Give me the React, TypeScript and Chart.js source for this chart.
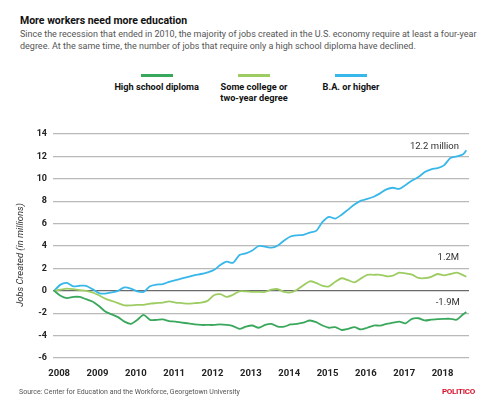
import React, { useEffect, useRef } from "react";
import { Chart, registerables } from "chart.js";

Chart.register(...registerables);

// Months since January 2008 (bimonthly samples, last point Oct 2018)
const monthOffsets = [
  0, 2, 4, 6, 8, 10, 12, 14, 16, 18, 20, 22, 24, 26, 28, 30, 32, 34, 36, 38, 40, 42, 44, 46,
  48, 50, 52, 54, 56, 58, 60, 62, 64, 66, 68, 70, 72, 74, 76, 78, 80, 82, 84, 86, 88, 90, 92,
  94, 96, 98, 100, 102, 104, 106, 108, 110, 112, 114, 116, 118, 120, 122, 124, 126, 128, 129,
];

// Jobs created since 2008, in millions
const highSchool = [
  0, -0.45, -0.65, -0.55, -0.55, -0.75, -0.95, -1.35, -1.85, -2.1, -2.35, -2.75, -2.95, -2.6,
  -2.15, -2.6, -2.6, -2.55, -2.7, -2.75, -2.85, -2.9, -3.0, -3.05,
  -3.05, -3.05, -3.0, -3.05, -3.15, -3.4, -3.2, -3.1, -3.3, -3.05, -2.95, -3.2, -3.2, -3.0,
  -2.95, -2.85, -2.65, -2.8, -3.1, -3.3, -3.25,
  -3.5, -3.4, -3.25, -3.45, -3.3, -3.1, -3.1, -2.95, -2.85, -2.75, -2.9, -2.5, -2.45, -2.65,
  -2.58, -2.52, -2.5, -2.5, -2.58, -2.1,
  -1.9,
];
const someCollege = [
  0, 0.1, 0.2, 0.15, 0.05, 0.0, -0.15, -0.4, -0.7, -0.9, -1.1, -1.3, -1.3, -1.25, -1.25, -1.15,
  -1.1, -1.05, -0.95, -1.05, -1.1, -1.15, -1.1, -1.05,
  -0.9, -0.4, -0.3, -0.55, -0.35, -0.05, -0.05, -0.1, -0.1, -0.1, 0.1, 0.15, -0.1, -0.15, 0.1,
  0.5, 0.85, 0.7, 0.45, 0.4, 0.8,
  1.12, 0.95, 0.75, 1.1, 1.43, 1.43, 1.43, 1.3, 1.35, 1.62, 1.55, 1.45, 1.15, 1.13, 1.25, 1.5,
  1.38, 1.5, 1.62, 1.4,
  1.25,
];
const baOrHigher = [
  0, 0.55, 0.7, 0.4, 0.45, 0.45, 0.15, -0.2, -0.25, -0.15, 0.0, 0.3, 0.2, -0.05, -0.1, 0.4,
  0.55, 0.6, 0.8, 0.95, 1.1, 1.25, 1.4, 1.5,
  1.65, 1.85, 2.3, 2.6, 2.5, 3.2, 3.35, 3.6, 4.0, 3.95, 3.85, 4.05, 4.5, 4.85, 4.95, 5.0, 5.2,
  5.35, 6.15, 6.6, 6.45,
  6.8, 7.25, 7.7, 8.05, 8.2, 8.4, 8.7, 9.05, 9.2, 9.1, 9.45, 9.85, 10.15, 10.6, 10.85, 10.95,
  11.2, 11.85, 12.0, 12.2,
  12.55,
];

const seriesNames = ["High school diploma", "Some college or\ntwo-year degree", "B.A. or higher"];
const seriesColors = ["#3aa85c", "#9dcd62", "#38b7ea"];
const seriesValues = [highSchool, someCollege, baOrHigher];

const yearTicks = [2008, 2009, 2010, 2011, 2012, 2013, 2014, 2015, 2016, 2017, 2018];
const yTicks = [-6, -4, -2, 0, 2, 4, 6, 8, 10, 12, 14];

const endLabels = ["12.2 million", "1.2M", "-1.9M"];
const endLabelYears = [2018.56, 2018.56, 2018.58];
const endLabelValues = [12.85, 2.98, -1.03];

const FONT = "Roboto, 'Noto Sans', sans-serif";

const textPlugin = {
  id: "extraText",
  afterDraw(chart: any) {
    const ctx = chart.ctx;
    const xs = chart.scales.x;
    const ys = chart.scales.y;
    ctx.save();
    // y-axis title
    ctx.translate(20.5, 255);
    ctx.rotate(-Math.PI / 2);
    ctx.font = `italic 9.4px ${FONT}`;
    ctx.fillStyle = "#333";
    ctx.textAlign = "center";
    ctx.textBaseline = "middle";
    ctx.fillText("Jobs Created (in millions)", 0, 0);
    ctx.restore();

    ctx.save();
    ctx.font = `9.5px ${FONT}`;
    ctx.fillStyle = "#333";
    ctx.textAlign = "right";
    ctx.textBaseline = "middle";
    endLabels.forEach((t, i) => {
      ctx.fillText(t, xs.getPixelForValue(endLabelYears[i]), ys.getPixelForValue(endLabelValues[i]));
    });
    ctx.restore();
  },
};

export default function App() {
  const canvasRef = useRef<HTMLCanvasElement | null>(null);

  useEffect(() => {
    if (!canvasRef.current) return;
    const chart = new Chart(canvasRef.current, {
      type: "line",
      data: {
        datasets: seriesValues.map((vals, i) => ({
          label: seriesNames[i],
          data: monthOffsets.map((m, j) => ({ x: 2008 + m / 12, y: vals[j] })),
          borderColor: seriesColors[i],
          backgroundColor: seriesColors[i],
          borderWidth: 1.8,
          pointRadius: 0,
          tension: 0.25,
          fill: false,
        })),
      },
      options: {
        animation: false,
        responsive: false,
        maintainAspectRatio: false,
        layout: { padding: { left: 0, right: 23, top: 134, bottom: 0 } },
        plugins: { legend: { display: false }, tooltip: { enabled: false }, title: { display: false } },
        scales: {
          x: {
            type: "linear",
            min: 2007.97,
            max: 2018.82,
            grid: { display: false, drawTicks: false },
            border: { display: false },
            afterBuildTicks: (s: any) => {
              s.ticks = yearTicks.map((v) => ({ value: v }));
            },
            afterFit: (s: any) => {
              s.height = 52;
            },
            ticks: {
              autoSkip: false,
              maxRotation: 0,
              labelOffset: 5,
              padding: 10,
              color: "#222",
              font: { family: FONT, size: 9.5, weight: "bold" },
              callback: (v: any) => String(v),
            },
          },
          y: {
            min: -6,
            max: 14,
            afterBuildTicks: (s: any) => {
              s.ticks = yTicks.map((v) => ({ value: v }));
            },
            afterFit: (s: any) => {
              s.width = 53;
            },
            grid: {
              drawTicks: false,
              color: (c: any) => (c.tick && c.tick.value === 0 ? "#6a6a6a" : "#b9b9b9"),
              lineWidth: 1.3,
            },
            border: { display: false },
            ticks: {
              padding: 6,
              color: "#222",
              font: { family: FONT, size: 9, weight: "bold" },
              callback: (v: any) => String(v),
            },
          },
        },
      },
      plugins: [textPlugin],
    });
    return () => chart.destroy();
  }, []);

  const legendCenters = [156.7, 254, 351];

  return (
    <div
      style={{
        position: "absolute",
        left: 0,
        top: 0,
        width: 492,
        height: 410,
        background: "#fff",
        fontFamily: FONT,
        overflow: "hidden",
      }}
    >
      <div
        style={{
          position: "absolute",
          left: 20,
          top: 16.2,
          fontSize: 10.5,
          lineHeight: "10.5px",
          fontWeight: 700,
          color: "#111",
          whiteSpace: "nowrap",
        }}
      >
        More workers need more education
      </div>
      <div
        style={{
          position: "absolute",
          left: 20,
          top: 27.6,
          fontSize: 9,
          lineHeight: "12.4px",
          color: "#555",
          whiteSpace: "nowrap",
        }}
      >
        Since the recession that ended in 2010, the majority of jobs created in the U.S. economy require at least a four-year
        <br />
        degree. At the same time, the number of jobs that require only a high school diploma have declined.
      </div>
      {seriesNames.map((name, i) => (
        <div
          key={name}
          style={{ position: "absolute", left: legendCenters[i] - 60, top: 74, width: 120, textAlign: "center" }}
        >
          <div style={{ width: 32, height: 2.5, background: seriesColors[i], margin: "0 auto" }} />
          <div
            style={{
              marginTop: 4,
              fontSize: 9.2,
              lineHeight: "11.7px",
              fontWeight: 700,
              color: "#111",
              whiteSpace: "pre-line",
            }}
          >
            {name}
          </div>
        </div>
      ))}
      <canvas
        ref={canvasRef}
        width={492}
        height={410}
        style={{ position: "absolute", left: 0, top: 0, width: 492, height: 410 }}
      />
      <div
        style={{
          position: "absolute",
          left: 19,
          top: 387.6,
          fontSize: 7,
          lineHeight: "9px",
          color: "#555",
          whiteSpace: "nowrap",
        }}
      >
        Source: Center for Education and the Workforce, Georgetown University
      </div>
      <div
        style={{
          position: "absolute",
          left: 442,
          top: 387.3,
          fontSize: 8,
          lineHeight: "9px",
          fontWeight: 700,
          color: "#d8102b",
          letterSpacing: -0.3,
          whiteSpace: "nowrap",
        }}
      >
        POLITICO
      </div>
    </div>
  );
}
